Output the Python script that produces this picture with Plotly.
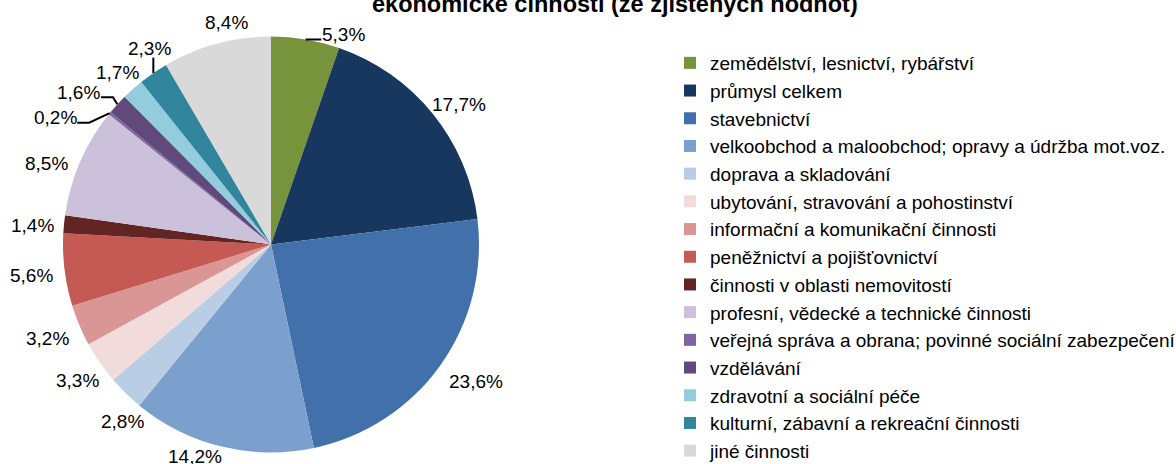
import math
import plotly.graph_objects as go

# ---- data ----
categories = [
    "zemědělství, lesnictví, rybářství",
    "průmysl celkem",
    "stavebnictví",
    "velkoobchod a maloobchod; opravy a údržba mot.voz.",
    "doprava a skladování",
    "ubytování, stravování a pohostinství",
    "informační a komunikační činnosti",
    "peněžnictví a pojišťovnictví",
    "činnosti v oblasti nemovitostí",
    "profesní, vědecké a technické činnosti",
    "veřejná správa a obrana; povinné sociální zabezpečení",
    "vzdělávání",
    "zdravotní a sociální péče",
    "kulturní, zábavní a rekreační činnosti",
    "jiné činnosti",
]
values = [5.3, 17.7, 23.6, 14.2, 2.8, 3.3, 3.2, 5.6, 1.4, 8.5, 0.2, 1.6, 1.7, 2.3, 8.4]
title_text = "ekonomické činnosti (ze zjištěných hodnot)"

# ---- style ----
colors = ["#77933C", "#17375E", "#4170AB", "#7BA0CD", "#B9CDE5", "#F2DCDB",
          "#D99694", "#C55A55", "#632523", "#CCC1DA", "#8064A2", "#604A7B",
          "#93CDDD", "#31859C", "#D9D9D9"]
# pixel nudges applied to the automatically placed outside labels
label_nudges = [(33, 10), (4, 0), (12, 7), (-20, -5), (17, 18), (2, 9), (-5, 7),
                (-4, 4), (-3, 3), (-7, 8), (-32, 14), (-17, -2), (4, -5), (13, -12), (17, -7)]
leader_kind = {0: "h", 10: "h", 11: "h", 13: "v"}

W, H = 1176, 464
CX, CY, R = 271, 244.5, 208
FONT = "Arial, Liberation Sans, sans-serif"


def px(x):
    return x / W


def py(y):
    return 1 - y / H


fig = go.Figure(go.Pie(
    labels=categories,
    values=values,
    marker=dict(colors=colors, line=dict(width=0)),
    sort=False,
    direction="clockwise",
    rotation=0,
    textinfo="none",
    hoverinfo="label+value",
    domain=dict(x=[px(CX - R), px(CX + R)], y=[py(CY + R), py(CY - R)]),
))

annotations = []
shapes = []
total = sum(values)
cum = 0.0
r_a, hw, hh = R + 7, 22, 8
for i, v in enumerate(values):
    mid = (cum + v / 2) / total * 2 * math.pi
    cum += v
    s, c = math.sin(mid), math.cos(mid)
    lx = CX + (r_a + hw) * s + label_nudges[i][0]
    ly = CY - (r_a + hh) * c + label_nudges[i][1]
    annotations.append(dict(
        x=px(lx), y=py(ly), xref="paper", yref="paper",
        text=f"{v:.1f}".replace(".", ",") + "%",
        showarrow=False, xanchor="center", yanchor="middle",
        font=dict(family=FONT, size=19, color="#000000"),
    ))
    kind = leader_kind.get(i)
    if kind:
        ex, ey = CX + R * s, CY - R * c
        if kind == "h":
            side = 1 if lx < ex else -1
            x0 = lx + side * 22
            y0 = ly + 5
            x1 = x0 + side * 12
            path = f"M{px(x0)},{py(y0)} L{px(x1)},{py(y0)} L{px(ex)},{py(ey)}"
        else:
            path = f"M{px(ex)},{py(ly + 9)} L{px(ex)},{py(ey)}"
        shapes.append(dict(type="path", xref="paper", yref="paper", path=path,
                           line=dict(color="#000000", width=2)))

annotations.append(dict(
    x=px(615), y=py(4), xref="paper", yref="paper", text=f"<b>{title_text}</b>",
    showarrow=False, xanchor="center", yanchor="middle",
    font=dict(family=FONT, size=23.5, color="#000000"),
))

fig.update_layout(
    width=W, height=H,
    margin=dict(l=0, r=0, t=0, b=0, autoexpand=False),
    paper_bgcolor="#FFFFFF",
    plot_bgcolor="#FFFFFF",
    showlegend=True,
    legend=dict(x=px(670), y=py(44), xanchor="left", yanchor="top",
                font=dict(family=FONT, size=19, color="#000000"),
                borderwidth=0, bgcolor="rgba(0,0,0,0)", traceorder="normal"),
    annotations=annotations,
    shapes=shapes,
)

fig.write_html(
    "out.html",
    config={"displayModeBar": False},
    post_script="document.body.style.margin='0';document.body.style.overflow='hidden';",
)
